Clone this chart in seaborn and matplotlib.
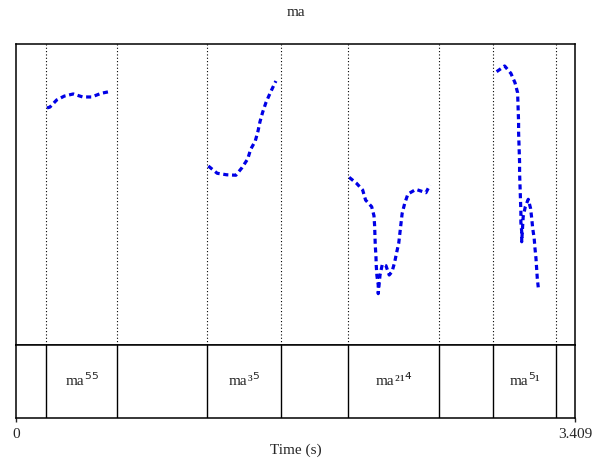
import matplotlib
matplotlib.use("Agg")
import matplotlib.pyplot as plt
import matplotlib.transforms as mtransforms
import numpy as np
import pandas as pd
import seaborn as sns

# ---- data -------------------------------------------------------------
total_dur = 3.409
title = "ma"

# interval tier: boundaries (s) and syllable labels
boundaries = [0.183, 0.616, 1.165, 1.616, 2.024, 2.579, 2.909, 3.293]
labels = ["", "ma\u2075\u2075", "", "ma\u00b3\u2075", "", "ma\u00b2\u00b9\u2074", "", "ma\u2075\u00b9", ""]

# pitch contours (time in s, f0 in Hz), one per syllable
t1 = [0.189, 0.207, 0.248, 0.295, 0.349, 0.407, 0.462, 0.518, 0.567]
f1 = [257.5, 258.1, 262.8, 265.4, 266.8, 264.8, 264.8, 267.2, 268.3]

t2 = [1.173, 1.227, 1.285, 1.341, 1.378, 1.413, 1.431, 1.459, 1.476, 1.488,
      1.504, 1.524, 1.549, 1.575, 1.585]
f2 = [218.9, 214.1, 213.1, 212.8, 217.8, 223.6, 230.0, 235.5, 242.2, 248.4,
      254.6, 261.0, 267.2, 273.2, 275.4]

t3 = [2.032, 2.077, 2.114, 2.132, 2.169, 2.183, 2.187, 2.189, 2.191, 2.195,
      2.197, 2.201, 2.209, 2.209, 2.220, 2.234, 2.256, 2.276, 2.293, 2.309,
      2.321, 2.334, 2.341, 2.348, 2.355, 2.370, 2.390, 2.439, 2.500, 2.524]
f3 = [211.4, 207.4, 203.0, 196.3, 191.9, 185.9, 179.3, 172.6, 166.0, 159.3,
      152.7, 146.0, 139.9, 134.1, 146.5, 153.6, 152.7, 146.5, 148.7, 154.9,
      161.3, 167.6, 174.2, 180.9, 187.5, 193.9, 200.3, 203.4, 201.2, 206.3]

t4 = [2.931, 2.980, 3.018, 3.043, 3.059, 3.061, 3.063, 3.065, 3.065, 3.067,
      3.069, 3.071, 3.071, 3.073, 3.075, 3.077, 3.079, 3.079, 3.084, 3.084,
      3.093, 3.106, 3.124, 3.138, 3.145, 3.151, 3.160, 3.165, 3.171, 3.175,
      3.179, 3.185]
f4 = [281.6, 285.4, 280.5, 274.3, 267.6, 261.0, 254.3, 248.0, 241.3, 234.7,
      228.0, 221.4, 214.7, 208.1, 201.5, 194.8, 188.2, 181.5, 175.3, 168.6,
      185.2, 191.9, 196.8, 190.8, 184.2, 177.5, 170.9, 164.2, 157.6, 150.9,
      144.3, 138.3]

f0_min, f0_max = 100, 300

# ---- style ------------------------------------------------------------
sns.set_style("white")
plt.rcParams["font.family"] = ["Liberation Serif", "DejaVu Sans"]
plt.rcParams["font.size"] = 11

W, H = 592, 462
fig = plt.figure(figsize=(W / 100, H / 100), dpi=100)

left, right = 16 / W, 575 / W
y_top, y_mid, y_bot = 1 - 44 / H, 1 - 345 / H, 1 - 418 / H
ax = fig.add_axes([left, y_mid, right - left, y_top - y_mid])
ax_tier = fig.add_axes([left, y_bot, right - left, y_mid - y_bot], sharex=ax)

# ---- pitch panel ------------------------------------------------------
contours = pd.concat([
    pd.DataFrame({"time": t, "f0": f, "syllable": i})
    for i, (t, f) in enumerate([(t1, f1), (t2, f2), (t3, f3), (t4, f4)])
])
for _, seg in contours.groupby("syllable"):
    sns.lineplot(data=seg, x="time", y="f0", ax=ax, sort=False,
                 estimator=None, color="#0000e6", linewidth=2.3,
                 linestyle=(0, (1.6, 1.15)), legend=False)

for b in boundaries:
    ax.axvline(b, color="black", linewidth=0.8, linestyle=(0, (1, 2)))

ax.set_xlim(0, total_dur)
ax.set_ylim(f0_min, f0_max)
ax.set_xlabel("")
ax.set_ylabel("")
ax.set_yticks([])
ax.tick_params(axis="x", which="both", bottom=False, labelbottom=False)
for s in ax.spines.values():
    s.set_color("black")
    s.set_linewidth(1.1)

# ---- tier panel -------------------------------------------------------
edges = [0.0] + boundaries + [total_dur]
for b in boundaries:
    ax_tier.axvline(b, color="black", linewidth=1.0)

# tone digits: ⁴ ⁵ set in a sans face, ¹ ² ³ in the serif face
SANS_DIGITS = {"\u2074", "\u2075"}
renderer = fig.canvas.get_renderer()
base = ax_tier.get_xaxis_transform()


def split_label(lab):
    pieces = [(lab[:2], "Liberation Serif", 11)]
    for ch in lab[2:]:
        if ch in SANS_DIGITS:
            pieces.append((ch, "DejaVu Sans", 12))
        else:
            pieces.append((ch, "Liberation Serif", 11))
    return pieces


for (a, b), lab in zip(zip(edges[:-1], edges[1:]), labels):
    if not lab:
        continue
    xc = (a + b) / 2
    texts, widths = [], []
    for s, fam, size in split_label(lab):
        t = ax_tier.text(xc, 0.452, s, ha="left", va="baseline",
                         family=fam, fontsize=size, transform=base)
        texts.append(t)
        widths.append(t.get_window_extent(renderer).width)
    offset = -sum(widths) / 2
    for t, w in zip(texts, widths):
        t.set_transform(mtransforms.offset_copy(base, fig=fig, x=offset,
                                                y=0, units="dots"))
        offset += w

ax_tier.set_ylim(0, 1)
ax_tier.set_yticks([])
ax_tier.set_xticks([0, total_dur])
ax_tier.set_xticklabels(["0", "3.409"])
ax_tier.tick_params(axis="x", direction="out", length=3, width=1.0,
                    bottom=True, labelbottom=True, pad=4, labelsize=11)
ax_tier.set_xlabel("Time (s)", fontsize=11, labelpad=2)
for s in ax_tier.spines.values():
    s.set_color("black")
    s.set_linewidth(1.1)

fig.text(0.5 * (left + right), 1 - 13 / H, title, ha="center", va="center",
         fontsize=11)

fig.savefig("out.png", dpi=100)
